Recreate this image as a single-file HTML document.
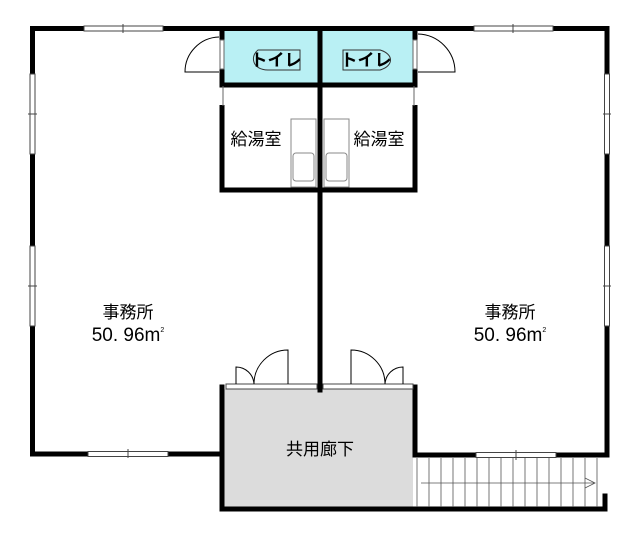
<!DOCTYPE html>
<html><head><meta charset="utf-8"><style>body{margin:0;background:#fff}svg{display:block}
text{font-family:"Liberation Sans","Noto Sans CJK JP",sans-serif;fill:#000}</style></head><body>
<svg width="640" height="536" viewBox="0 0 640 536" xmlns="http://www.w3.org/2000/svg">
<rect width="640" height="536" fill="#fff"/>
<rect x="224" y="31" width="94" height="52" fill="#b9f0f4"/>
<rect x="322" y="31" width="91" height="52" fill="#b9f0f4"/>
<rect x="224" y="389" width="189" height="120" fill="#dcdcdc"/>
<g stroke="#000" stroke-width="5" fill="none" stroke-linecap="square">
<path d="M32.5 28.5 H607 V455 H415 V387"/>
<path d="M32.5 28.5 V454 H222"/>
<path d="M222 387 V509 H605 V496"/>
<path d="M320 28.5 V390"/>
<path d="M222 190 H415"/>
<path d="M222 85 H415"/>
</g>
<g stroke="#000" stroke-width="5">
<line x1="222" y1="105" x2="222" y2="192"/>
<line x1="415" y1="105" x2="415" y2="192"/>
<line x1="222" y1="28" x2="222" y2="40"/>
<line x1="415" y1="28" x2="415" y2="40"/>
<line x1="222" y1="69" x2="222" y2="87"/>
<line x1="415" y1="69" x2="415" y2="87"/>
</g>
<g stroke="#666" stroke-width="1" fill="none">
<line x1="223" y1="86" x2="223" y2="106"/><line x1="414" y1="86" x2="414" y2="106"/>
<rect x="220" y="40" width="4" height="29"/><rect x="413" y="40" width="4" height="29"/>
</g>
<g fill="#fff" stroke="#444" stroke-width="1">
<rect x="84" y="26" width="79" height="5"/><line x1="123" y1="24" x2="123" y2="33"/>
<rect x="474" y="26" width="79" height="5"/><line x1="513" y1="24" x2="513" y2="33"/>
<rect x="30" y="74" width="5" height="80"/><line x1="28" y1="114" x2="37" y2="114"/>
<rect x="30" y="246" width="5" height="80"/><line x1="28" y1="286" x2="37" y2="286"/>
<rect x="604.5" y="74" width="5" height="80"/><line x1="603" y1="114" x2="611" y2="114"/>
<rect x="604.5" y="246" width="5" height="80"/><line x1="603" y1="286" x2="611" y2="286"/>
<rect x="88" y="451.5" width="80" height="5"/><line x1="128" y1="449" x2="128" y2="458"/>
<rect x="476" y="452.5" width="80" height="5"/><line x1="516" y1="450" x2="516" y2="460"/>
<rect x="226" y="384" width="91" height="5"/><rect x="323" y="384" width="90" height="5"/>
</g>
<g stroke="#000" stroke-width="1" fill="none">
<path d="M219 72 H185 A35 35 0 0 1 219 37"/>
<path d="M418 72 H455 A38 38 0 0 0 418 34"/>
<path d="M236 384 V367 A18 18 0 0 1 254 384"/>
<path d="M288 384 V350 A34 34 0 0 0 254 384"/>
<path d="M351 384 V350 A34 34 0 0 1 385 384"/>
<path d="M403 384 V367 A18 18 0 0 0 385 384"/>
<rect x="291" y="119" width="25" height="68" stroke="#888"/>
<rect x="293" y="153" width="21" height="28" rx="3" stroke="#888"/>
<rect x="324" y="119" width="25" height="68" stroke="#888"/>
<rect x="326" y="153" width="21" height="28" rx="3" stroke="#888"/>
<path d="M258 50 H300 V70 H268 C252 70 250 56 258 50Z" stroke="#333"/>
<path d="M343 50 H380 C394 54 394 66 380 70 H343Z" stroke="#333"/>
</g>
<g stroke="#555" stroke-width="0.8">
<path d="M417 458 V507 M429 458 V507 M441 458 V507 M453 458 V507 M465 458 V507 M477 458 V507 M489 458 V507 M501 458 V507 M513 458 V507 M525 458 V507 M537 458 V507 M549 458 V507 M561 458 V507 M573 458 V507 M585 458 V507 M597 458 V507"/>
<path d="M421 483 H595 M585 478 L595 483 L585 488" fill="none"/>
</g>
<text x="276" y="66" font-size="17" font-weight="bold" text-anchor="middle">トイレ</text>
<text x="366" y="66" font-size="17" font-weight="bold" text-anchor="middle">トイレ</text>
<text x="256" y="145" font-size="17" text-anchor="middle">給湯室</text>
<text x="379" y="145" font-size="17" text-anchor="middle">給湯室</text>
<text x="128" y="318" font-size="17" text-anchor="middle">事務所</text>
<text x="128" y="341" font-size="19" text-anchor="middle">50. 96m<tspan font-size="7" dy="-9">2</tspan></text>
<text x="510" y="318" font-size="17" text-anchor="middle">事務所</text>
<text x="510" y="341" font-size="19" text-anchor="middle">50. 96m<tspan font-size="7" dy="-9">2</tspan></text>
<text x="320" y="455" font-size="17" text-anchor="middle">共用廊下</text>
</svg>
</body></html>
